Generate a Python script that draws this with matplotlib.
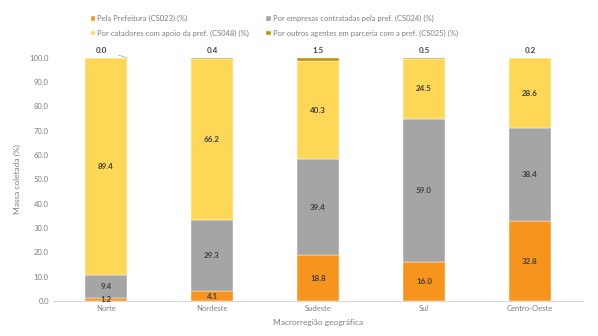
import numpy as np
import matplotlib
matplotlib.use("Agg")
import matplotlib.pyplot as plt

plt.rcParams['font.family'] = ['Lato', 'DejaVu Sans']

regioes = ["Norte", "Nordeste", "Sudeste", "Sul", "Centro-Oeste"]
prefeitura = [1.2, 4.1, 18.8, 16.0, 32.8]
empresas = [9.4, 29.3, 39.4, 59.0, 38.4]
catadores = [89.4, 66.2, 40.3, 24.5, 28.6]
outros = [0.0, 0.4, 1.5, 0.5, 0.2]

series = [
    ("Pela Prefeitura (CS023) (%)", prefeitura, "#F7941D"),
    ("Por empresas contratadas pela pref. (CS024) (%)", empresas, "#A5A5A5"),
    ("Por catadores com apoio da pref. (CS048) (%)", catadores, "#FFD757"),
    ("Por outros agentes em parceria com a pref. (CS025) (%)", outros, "#BF9000"),
]

fig = plt.figure(figsize=(5.98, 3.36), dpi=100)
ax = fig.add_axes([0.0886, 0.104, 0.8864, 0.724])

x = np.arange(len(regioes))
bottom = np.zeros(len(regioes))
handles = []
for i, (label, vals, color) in enumerate(series):
    vals = np.array(vals)
    bars = ax.bar(x, vals, 0.4, bottom=bottom, color=color, label=label,
                  edgecolor="white", linewidth=0.3)
    handles.append(bars)
    if i < 3:
        for xi, b, v in zip(x, bottom, vals):
            ax.text(xi, b + v / 2, f"{v:.1f}", ha="center", va="center",
                    fontsize=5.8, fontweight="bold", color="#404040")
    bottom += vals

# rótulos da última série acima das barras
for xi, v in zip(x, outros):
    if xi == 0:
        ax.annotate(f"{v:.1f}", xy=(xi + 0.2, 100), xytext=(xi - 0.04, 103.2),
                    ha="center", va="center", fontsize=5.8, fontweight="bold",
                    color="#404040",
                    arrowprops=dict(arrowstyle="-", color="#A0A0A0", lw=0.5,
                                    shrinkA=6, shrinkB=0))
    else:
        ax.text(xi, 103.2, f"{v:.1f}", ha="center", va="center",
                fontsize=5.8, fontweight="bold", color="#404040")

ax.set_xlim(-0.5, 4.5)
ax.set_ylim(0, 100)
ax.set_yticks(np.arange(0, 101, 10))
ax.set_yticklabels([f"{t:.1f}" for t in np.arange(0, 101, 10)])
ax.set_xticks(x)
ax.set_xticklabels(regioes)
ax.tick_params(axis="both", length=0, labelsize=5.5, colors="#7F7F7F", pad=3)
for s in ["top", "right", "left"]:
    ax.spines[s].set_visible(False)
ax.spines["bottom"].set_color("#D9D9D9")
ax.spines["bottom"].set_linewidth(0.8)

ax.set_ylabel("Massa coletada (%)", fontsize=6, color="#7F7F7F", labelpad=6)
ax.set_xlabel("Macrorregião geográfica", fontsize=6, color="#7F7F7F", labelpad=5)

# ordem por linhas: (pref, empresas) / (catadores, outros)
order = [0, 2, 1, 3]
fig.legend(handles=[handles[k] for k in order],
           loc="upper left", bbox_to_anchor=(0.14, 0.975),
           ncol=2, frameon=False, fontsize=5.5, labelcolor="#7F7F7F",
           handlelength=0.6, handleheight=0.6, handletextpad=0.3,
           columnspacing=2.2, labelspacing=0.95)

fig.savefig("out.png", dpi=100)
